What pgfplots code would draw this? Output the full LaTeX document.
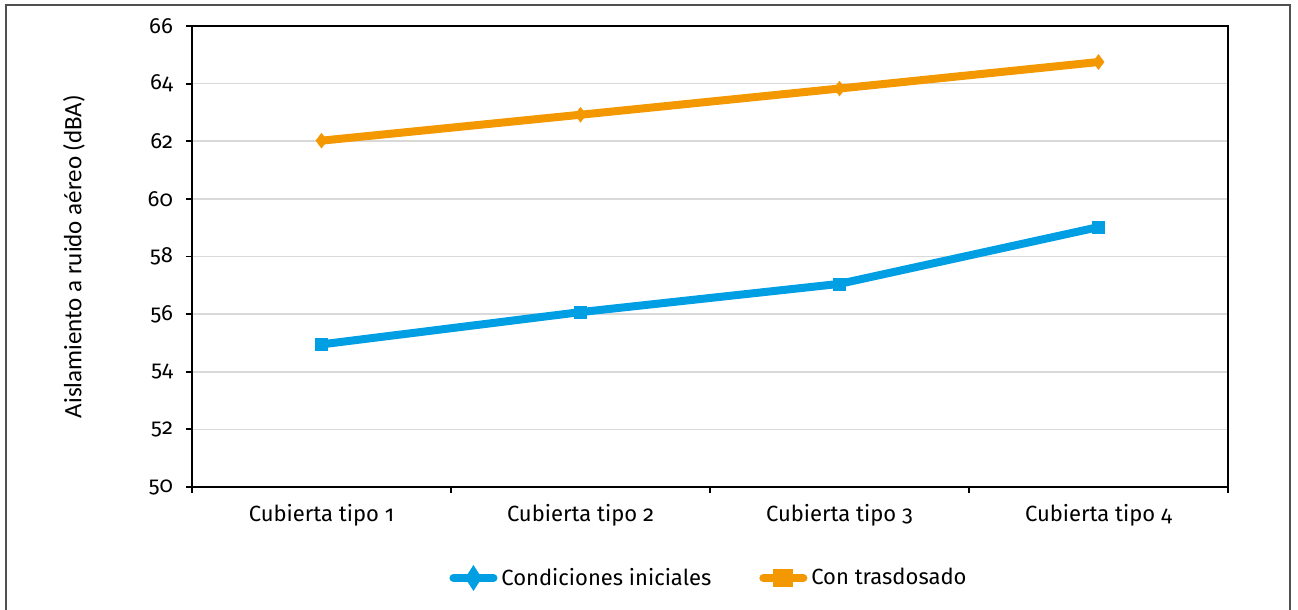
\documentclass[border=0pt]{standalone}
\usepackage{fontspec}
\setmainfont{Fira Sans}[Numbers=OldStyle]
\newfontfamily\carlito{Carlito}
\usepackage{pgfplots}
\pgfplotsset{compat=1.18}
\definecolor{cblue}{RGB}{0,159,227}
\definecolor{corange}{RGB}{243,152,0}
\definecolor{gridgray}{RGB}{217,217,217}
\definecolor{framegray}{RGB}{80,80,80}
\begin{document}
\begin{tikzpicture}
\useasboundingbox (-96pt,-61.5pt) rectangle (553pt,243.5pt);
\draw[framegray, line width=1pt] (-93pt,-70pt) -- (-93pt,241pt) -- (549pt,241pt) -- (549pt,-70pt);
\begin{axis}[
  at={(0pt,0pt)}, anchor=south west,
  scale only axis,
  width=518pt, height=230.5pt,
  xmin=0.5, xmax=4.5, ymin=50, ymax=66,
  ytick={50,52,54,56,58,60,62,64,66},
  yticklabels={50,52,54,56,58,60,62,64,66},
  xtick={1,2,3,4},
  xticklabels={Cubierta tipo 1,Cubierta tipo 2,Cubierta tipo 3,Cubierta tipo 4},
  minor xtick={0.5,1.5,2.5,3.5,4.5},
  major x tick style={draw=none},
  minor x tick style={black, line width=0.9pt},
  minor tick length=3pt,
  y tick style={black, line width=0.9pt},
  major tick length=3pt,
  tick align=outside,
  tick pos=left,
  ymajorgrids,
  grid style={gridgray, line width=0.8pt},
  axis line style={black, line width=1pt},
  ticklabel style={font=\fontsize{11}{13}\selectfont},
  xticklabel style={yshift=-2pt},
  yticklabel style={xshift=-3pt},
  ylabel={\carlito\fontsize{12.5}{14}\selectfont Aislamiento a ruido aéreo (dBA)},
  ylabel style={at={(axis description cs:0,0.5)}, anchor=south, xshift=0pt, yshift=50pt},
  legend style={at={(0.5,-45.5pt)}, anchor=center, draw=none, fill=none,
    legend columns=2, font=\fontsize{11}{13}\selectfont,
    /tikz/every even column/.append style={column sep=22pt}},
  legend cell align=left,
]
\addplot[cblue, line width=4pt, mark=square*, mark size=3pt,
  mark options={solid, fill=cblue, draw=cblue, line width=0.1pt},
  legend image code/.code={
    \draw[cblue, line width=4pt, line cap=round] (0pt,0pt) -- (20pt,0pt);
    \fill[cblue] (10pt,2.8pt) -- (11.8pt,0pt) -- (10pt,-2.8pt) -- (8.2pt,0pt) -- cycle;
  }]
  coordinates {(1,54.95) (2,56.07) (3,57.05) (4,59.02)};
\addlegendentry{Condiciones iniciales}
\addplot[corange, line width=4pt, mark=diamond*, mark size=3.8pt,
  mark options={solid, fill=corange, draw=corange, line width=0.1pt},
  legend image code/.code={
    \draw[corange, line width=4pt, line cap=round] (0pt,0pt) -- (20pt,0pt);
    \fill[corange] (7pt,-2.4pt) rectangle (13pt,2.4pt);
  }]
  coordinates {(1,62.02) (2,62.92) (3,63.83) (4,64.75)};
\addlegendentry{Con trasdosado}
\end{axis}
\end{tikzpicture}
\end{document}
